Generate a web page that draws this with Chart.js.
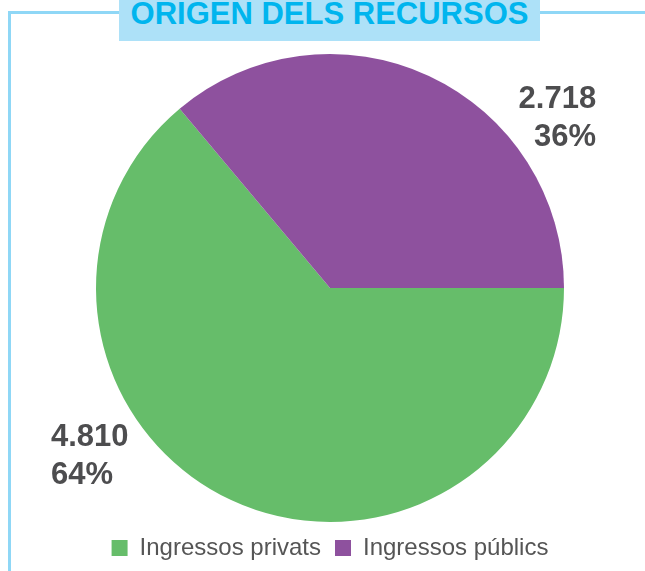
<!DOCTYPE html>
<html>
<head>
<meta charset="utf-8">
<script src="https://cdn.jsdelivr.net/npm/chart.js@4/dist/chart.umd.min.js"></script>
<style>
  html, body { margin: 0; padding: 0; background: #fff; }
  body { width: 645px; height: 571px; position: relative; overflow: hidden; font-family: 'Liberation Sans', Arial, sans-serif; }
  .frame { position: absolute; left: 8px; top: 11px; width: 700px; height: 700px;
           border-left: 3px solid #8fd7f6; border-top: 3px solid #8fd7f6; }
  .title { position: absolute; left: 119px; top: 0; width: 421px; height: 41px; background: #ade1f8; overflow: hidden; }
  .title span { position: absolute; left: 0; right: 0; top: -2px; text-align: center;
                font: bold 31px/31px 'Liberation Sans', Arial, sans-serif; color: #00b5ee; white-space: nowrap; }
  .wrap { position: absolute; left: 0; top: 0; width: 645px; height: 571px; }
</style>
</head>
<body>
<div class="frame"></div>
<div class="title"><span>ORIGEN DELS RECURSOS</span></div>
<div class="wrap"><canvas id="pieChart"></canvas></div>
<script>
// Data: sources of funding
const categories = ['Ingressos privats', 'Ingressos públics'];
const values = [4810, 2718];
const colors = ['#66bd6a', '#8e519e'];

// where the value labels sit (angle in deg, distance as multiple of radius)
const labelAngles = [149.2, -32.8];
const labelDist = [1.388, 1.353];
const labelAlign = ['left', 'right'];

const total = values.reduce((a, b) => a + b, 0);

function fmtThousands(n) {
  return String(n).replace(/\B(?=(\d{3})+(?!\d))/g, '.');
}

// draws "value / percent" next to each slice
const sliceLabels = {
  id: 'sliceLabels',
  afterDatasetsDraw(chart) {
    const ctx = chart.ctx;
    const arcs = chart.getDatasetMeta(0).data;
    ctx.save();
    ctx.font = "bold 31px 'Liberation Sans', Arial, sans-serif";
    ctx.fillStyle = '#4d4d4f';
    ctx.textBaseline = 'alphabetic';
    arcs.forEach((arc, i) => {
      const a = labelAngles[i] * Math.PI / 180;
      const r = arc.outerRadius * labelDist[i];
      const x = arc.x + Math.cos(a) * r;
      const y = arc.y + Math.sin(a) * r;
      ctx.textAlign = labelAlign[i];
      ctx.fillText(fmtThousands(values[i]), x, y - 8.5);
      ctx.fillText(Math.round(values[i] / total * 100) + '%', x, y + 29.5);
    });
    ctx.restore();
  }
};

const ctx = document.getElementById('pieChart').getContext('2d');
const pieChart = new Chart(ctx, {
  type: 'pie',
  data: {
    labels: categories,
    datasets: [{
      data: values,
      backgroundColor: colors,
      borderWidth: 0
    }]
  },
  options: {
    responsive: true,
    maintainAspectRatio: false,
    animation: false,
    rotation: 90,
    layout: { padding: { top: 54, left: 15, right: 0, bottom: 1 } },
    plugins: {
      tooltip: { enabled: false },
      legend: {
        position: 'bottom',
        labels: {
          boxWidth: 16,
          boxHeight: 16,
          padding: 14,
          color: '#555555',
          font: { family: "'Liberation Sans', Arial, sans-serif", size: 24 }
        }
      }
    }
  },
  plugins: [sliceLabels]
});
</script>
</body>
</html>
